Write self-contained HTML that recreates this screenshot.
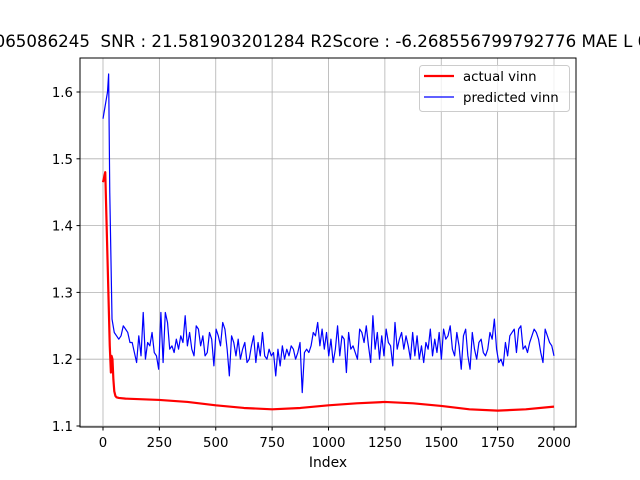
<!DOCTYPE html>
<html><head><meta charset="utf-8"><style>
body{margin:0;background:#fff}
svg{display:block;font-family:"DejaVu Sans","Liberation Sans",sans-serif}
</style></head><body>
<svg id="chart" width="640" height="480" xmlns="http://www.w3.org/2000/svg">
<rect width="640" height="480" fill="#fff"/>
<text x="-16" y="47" font-size="16.67" xml:space="preserve">0065086245  SNR : 21.581903201284 R2Score : -6.268556799792776 MAE L 0.0</text>
<g id="grid"></g>
<g id="series"></g>
<rect x="80" y="58" width="496" height="369" fill="none" stroke="#000" stroke-width="1"/>
<g id="ticks"></g>
<text x="328" y="467" font-size="13.9" text-anchor="middle">Index</text>
<g>
<rect x="419.5" y="65.5" width="150" height="46" rx="3" fill="#fff" fill-opacity="0.8" stroke="#ccc"/>
<line x1="424" y1="76" x2="454" y2="76" stroke="red" stroke-width="2.2"/>
<text x="463" y="81" font-size="13.3">actual vinn</text>
<line x1="424" y1="97" x2="454" y2="97" stroke="blue" stroke-width="1.2"/>
<text x="463" y="102" font-size="13.3">predicted vinn</text>
</g>
</svg>
<script>
const xTicks=[0,250,500,750,1000,1250,1500,1750,2000];
const yTicks=[1.1,1.2,1.3,1.4,1.5,1.6];
const actualX=[0,10,20,30,35,38,42,46,50,55,60,70,100,250,375,500,625,750,875,1000,1125,1250,1375,1500,1625,1750,1875,2000];
const actualY=[1.465,1.48,1.35,1.22,1.18,1.205,1.2,1.17,1.152,1.145,1.143,1.142,1.141,1.139,1.136,1.131,1.127,1.125,1.127,1.131,1.134,1.136,1.134,1.13,1.125,1.123,1.125,1.129];
const predHeadX=[0,10,20,25,30,40,50,60,70,80,90];
const predHeadY=[1.56,1.58,1.6,1.627,1.45,1.26,1.24,1.235,1.23,1.235,1.25];
const predTail=[1.245,1.24,1.225,1.225,1.21,1.195,1.235,1.205,1.27,1.2,1.225,1.22,1.24,1.21,1.205,1.185,1.27,1.195,1.27,1.255,1.215,1.22,1.21,1.23,1.215,1.235,1.225,1.265,1.22,1.24,1.215,1.205,1.25,1.245,1.22,1.235,1.205,1.21,1.24,1.23,1.19,1.245,1.235,1.22,1.255,1.245,1.215,1.175,1.235,1.225,1.205,1.23,1.2,1.215,1.225,1.195,1.2,1.22,1.235,1.195,1.225,1.205,1.24,1.205,1.2,1.215,1.205,1.21,1.175,1.215,1.19,1.22,1.2,1.215,1.205,1.22,1.215,1.2,1.21,1.225,1.15,1.21,1.215,1.21,1.22,1.24,1.235,1.255,1.22,1.245,1.215,1.24,1.205,1.23,1.195,1.215,1.25,1.205,1.235,1.23,1.18,1.24,1.215,1.22,1.21,1.2,1.245,1.24,1.225,1.25,1.22,1.195,1.265,1.215,1.24,1.2,1.235,1.205,1.245,1.225,1.22,1.19,1.255,1.215,1.23,1.24,1.215,1.235,1.22,1.2,1.24,1.205,1.235,1.2,1.22,1.195,1.225,1.215,1.245,1.205,1.23,1.21,1.24,1.2,1.245,1.23,1.235,1.25,1.215,1.205,1.24,1.22,1.185,1.235,1.245,1.205,1.185,1.24,1.215,1.2,1.225,1.23,1.21,1.205,1.215,1.24,1.23,1.26,1.215,1.195,1.2,1.19,1.225,1.205,1.235,1.24,1.245,1.21,1.245,1.25,1.215,1.22,1.21,1.225,1.235,1.245,1.24,1.23,1.21,1.195,1.245,1.235,1.225,1.22,1.205];
const NS="http://www.w3.org/2000/svg";
function sx(v){return 103+v*(451/2000);}
function sy(v){return 426-(v-1.1)*668;}
function mk(tag,attrs,parent){const e=document.createElementNS(NS,tag);for(const k in attrs)e.setAttribute(k,attrs[k]);parent.appendChild(e);return e;}
const grid=document.getElementById('grid'),ticks=document.getElementById('ticks'),series=document.getElementById('series');
xTicks.forEach(t=>{
 const g=mk('line',{x1:sx(t),x2:sx(t),y1:58,y2:427,stroke:'#b0b0b0','stroke-width':0.8},grid);
 
 
 mk('line',{x1:sx(t),x2:sx(t),y1:427,y2:430.5,stroke:'#000'},ticks);
 const l=mk('text',{x:sx(t),y:447,'font-size':13.3,'text-anchor':'middle'},ticks);
 l.textContent=t;
 
 
});
yTicks.forEach(t=>{
 const g=mk('line',{x1:80,x2:576,y1:sy(t),y2:sy(t),stroke:'#b0b0b0','stroke-width':0.8},grid);
 
 
 mk('line',{x1:76.5,x2:80,y1:sy(t),y2:sy(t),stroke:'#000'},ticks);
 const l=mk('text',{x:73,y:sy(t)+5,'font-size':13.3,'text-anchor':'end'},ticks);
 l.textContent=t.toFixed(1);
 
 
});
const step=1900/(predTail.length-1);
let pp=predHeadX.map((x,i)=>sx(x)+','+sy(predHeadY[i]));
predTail.forEach((v,i)=>pp.push(sx(100+i*step)+','+sy(v)));
const pl=mk('polyline',{points:pp.join(' '),fill:'none',stroke:'blue','stroke-width':1.2,'stroke-linejoin':'round'},series);


const ap=actualX.map((x,i)=>sx(x)+','+sy(actualY[i])).join(' ');
const al=mk('polyline',{points:ap,fill:'none',stroke:'red','stroke-width':2.2,'stroke-linejoin':'round'},series);


</script>
</body></html>
